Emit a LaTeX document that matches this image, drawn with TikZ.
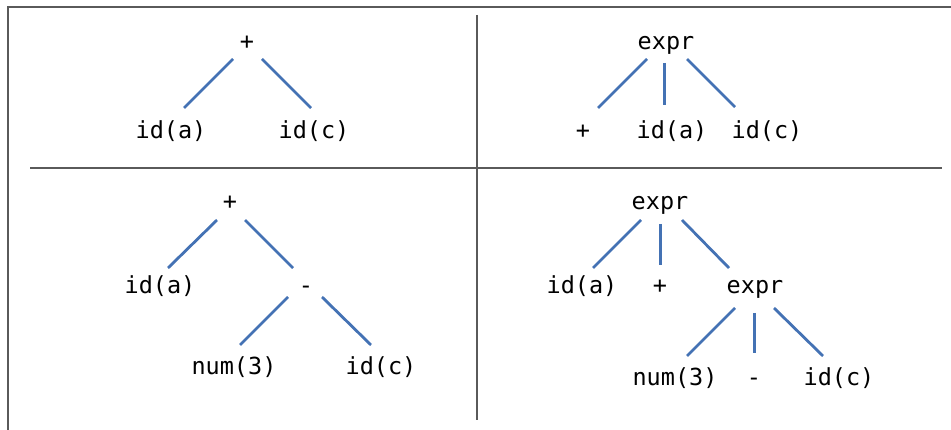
\documentclass[tikz,border=0pt]{standalone}
\usepackage{fontspec}
\setmonofont{DejaVu Sans Mono}
\usetikzlibrary{calc}
\definecolor{edgeblue}{RGB}{68,114,180}
\definecolor{framegray}{RGB}{90,90,90}
\tikzset{
  lbl/.style={font=\ttfamily\fontsize{23.5}{26}\selectfont, inner sep=0pt, text height=0.76em, text depth=0.14em, anchor=center, yshift=-3.5pt},
  edge/.style={draw=edgeblue, line width=2.8pt},
  frame/.style={draw=framegray, line width=1.8pt}
}
\begin{document}
\begin{tikzpicture}[x=1pt,y=-1pt]
\useasboundingbox (0,0) rectangle (951,430);
% frame and dividers
\coordinate (ftr) at (951,7);
\coordinate (ftl) at (8,7);
\coordinate (fbl) at (8,430);
\draw[frame] (ftr) -- (ftl) -- (fbl);
\coordinate (hl) at (30,168);
\coordinate (hr) at (942,168);
\coordinate (vt) at (477,15);
\coordinate (vb) at (477,420);
\draw[frame] (hl) -- (hr);
\draw[frame] (vt) -- (vb);

% top-left tree
\node[lbl] (tlp) at (247,43) {+};
\node[lbl] (tla) at (171,132) {id(a)};
\node[lbl] (tlc) at (314,132) {id(c)};
\draw[edge] ([shift={(-14,12.5)}]tlp.center) -- ([shift={(13,-27.5)}]tla.center);
\draw[edge] ([shift={(15,12.5)}]tlp.center) -- ([shift={(-3,-27.5)}]tlc.center);

% top-right tree
\node[lbl] (tre) at (666,43) {expr};
\node[lbl] (trp) at (583,132) {+};
\node[lbl] (tra) at (672,132) {id(a)};
\node[lbl] (trc) at (767,132) {id(c)};
\draw[edge] ([shift={(-19,12.5)}]tre.center) -- ([shift={(15,-27.5)}]trp.center);
\draw[edge] ([shift={(-1.5,16.5)}]tre.center) -- ([shift={(-7.5,-30.5)}]tra.center);
\draw[edge] ([shift={(21,12.5)}]tre.center) -- ([shift={(-32,-28.5)}]trc.center);

% bottom-left tree
\node[lbl] (blp) at (230,203) {+};
\node[lbl] (bla) at (160,287) {id(a)};
\node[lbl] (blm) at (306,287) {-};
\node[lbl] (bln) at (234,368) {num(3)};
\node[lbl] (blc) at (381,368) {id(c)};
\draw[edge] ([shift={(-13,13.5)}]blp.center) -- ([shift={(8,-22.5)}]bla.center);
\draw[edge] ([shift={(15,13.5)}]blp.center) -- ([shift={(-13,-22.5)}]blm.center);
\draw[edge] ([shift={(-18,6.5)}]blm.center) -- ([shift={(6,-26.5)}]bln.center);
\draw[edge] ([shift={(16,6.5)}]blm.center) -- ([shift={(-10,-26.5)}]blc.center);

% bottom-right tree
\node[lbl] (bre) at (660,203) {expr};
\node[lbl] (bra) at (582,287) {id(a)};
\node[lbl] (brp) at (660,287) {+};
\node[lbl] (bre2) at (755,287) {expr};
\node[lbl] (brn) at (675,379) {num(3)};
\node[lbl] (brm) at (754,379) {-};
\node[lbl] (brc) at (839,379) {id(c)};
\draw[edge] ([shift={(-19,13.5)}]bre.center) -- ([shift={(11,-22.5)}]bra.center);
\draw[edge] ([shift={(0.5,17.5)}]bre.center) -- ([shift={(0.5,-25.5)}]brp.center);
\draw[edge] ([shift={(22,13.5)}]bre.center) -- ([shift={(-26,-22.5)}]bre2.center);
\draw[edge] ([shift={(-20,17.5)}]bre2.center) -- ([shift={(12,-26.5)}]brn.center);
\draw[edge] ([shift={(-0.5,22.5)}]bre2.center) -- ([shift={(0.5,-29.5)}]brm.center);
\draw[edge] ([shift={(19,17.5)}]bre2.center) -- ([shift={(-16,-26.5)}]brc.center);
\end{tikzpicture}
\end{document}
